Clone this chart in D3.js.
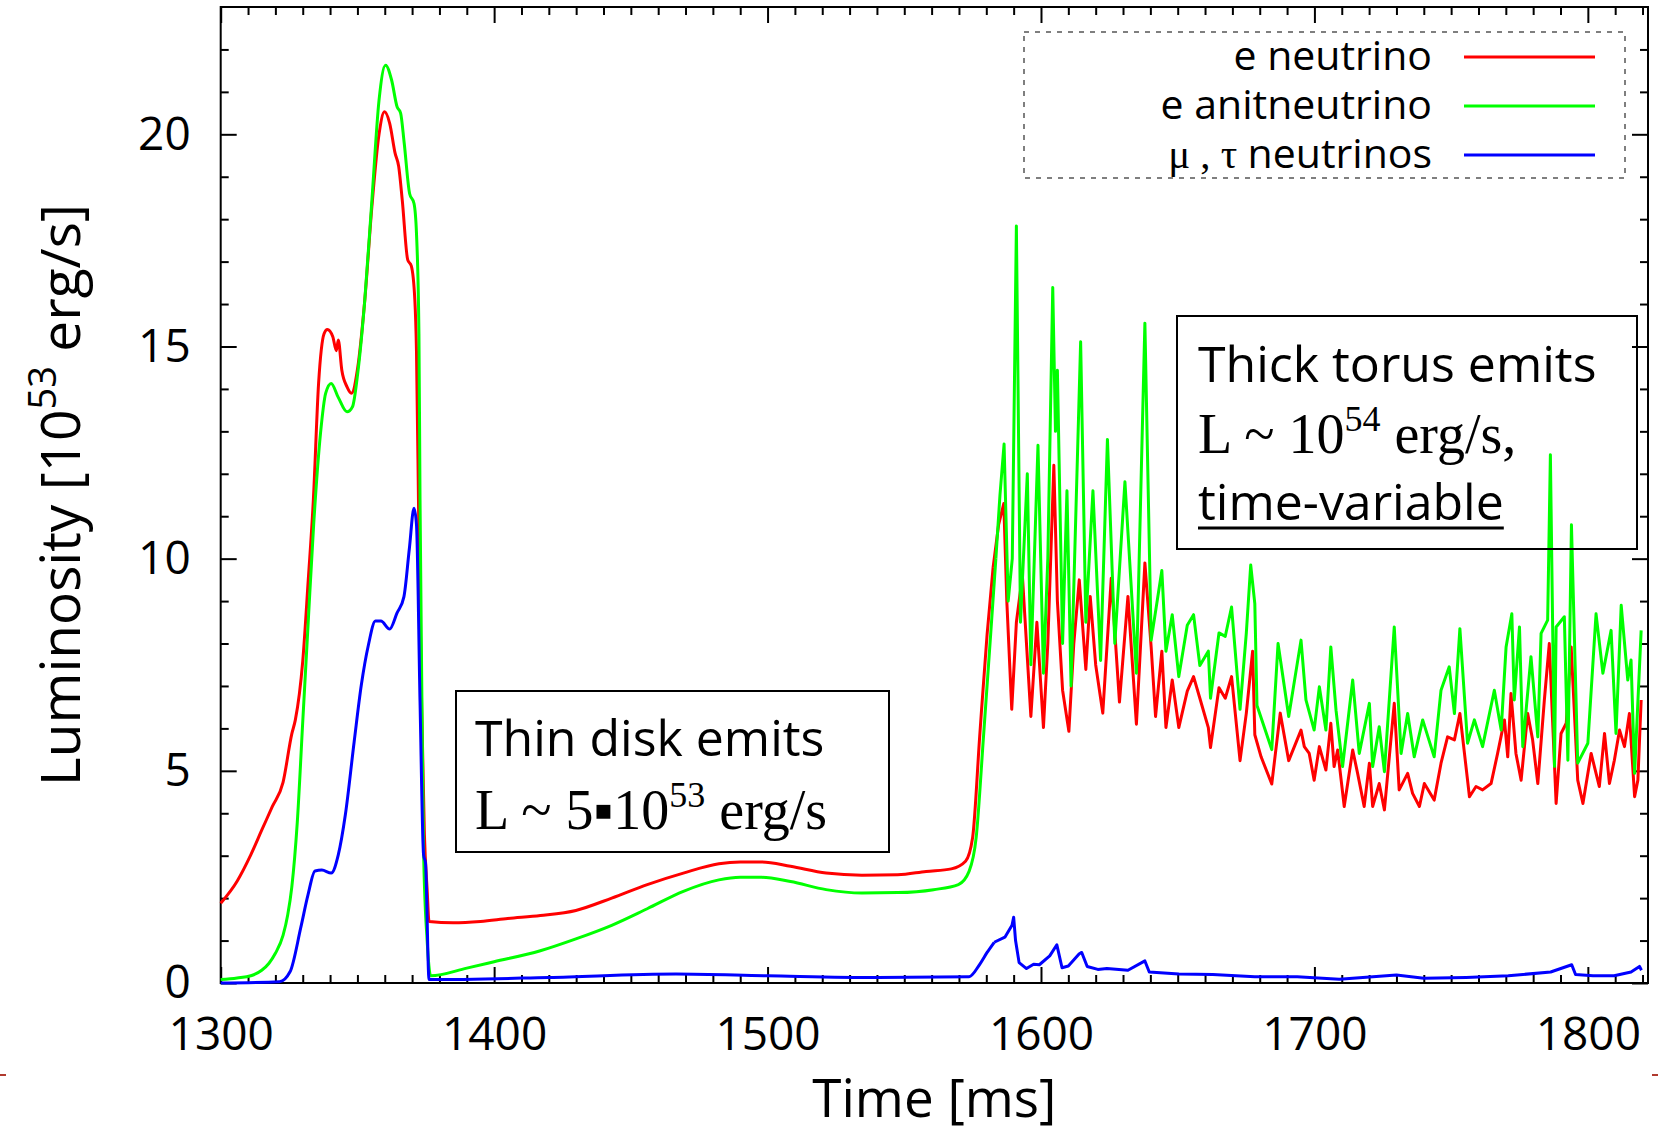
<!DOCTYPE html>
<html>
<head>
<meta charset="utf-8">
<title>Neutrino luminosity</title>
<script src="https://d3js.org/d3.v7.min.js"></script>
<style>
  * { margin: 0; padding: 0; }
  body { background: #fff; }
  svg { display: block; }
  .tick text { font-family: "Open Sans", sans-serif; fill: #000; }
</style>
</head>
<body>
<div id="chart"></div>
<script>
// ---- data (time in ms, luminosity in 1e53 erg/s) ----
const eNuT = [1300,1306,1311,1315,1318.9,1322.8,1326,1327.3,1330,1332,1333.9,1335.8,1337.8,1339,1341,1342.3,1343,1344.3,1346.2,1347.8,1350.1,1352.7,1355.3,1357.9,1359.9,1361.8,1363.8,1365.1,1366.4,1368.4,1369.7,1371,1371.6,1372.5,1373.5,1374.5,1375.5,1376.2,1385,1395,1405,1416.9,1429.9,1443,1456,1469.2,1482.2,1490,1497.9,1508.4,1521.4,1534.5,1547.6,1558,1567.2,1572.4,1575,1577.6,1580.3,1582.5,1584.5,1586.4,1587.5,1589.3,1591,1593.2,1596.3,1598.5,1600.9,1602.5,1604.7,1606,1607.9,1610.2,1612,1614,1616.4,1618,1620,1622.6,1625.7,1628.7,1631.8,1634.9,1638,1640.3,1641.9,1644.2,1645.7,1648,1650.4,1653.5,1655.8,1658.1,1661.2,1662,1665.1,1667.4,1669.7,1672.8,1675.1,1677.4,1678.2,1680.5,1684.4,1687.5,1690.6,1695.1,1696.3,1698.1,1699.9,1701.8,1704.2,1706,1707.2,1708.5,1710.9,1714,1715.8,1718.2,1720.1,1721.3,1723.7,1725.6,1729.2,1731,1734.1,1735.9,1738.4,1740.2,1743.8,1746.3,1748.7,1751.2,1753.2,1756.7,1759.1,1761.5,1764.6,1767,1769.5,1770.7,1771.9,1773.7,1775.6,1778,1779.8,1781.7,1784.1,1785.9,1788.4,1790.2,1792.1,1793.9,1796.3,1798.2,1801.2,1804.2,1806.1,1807.9,1809.7,1811.6,1813.4,1815.2,1817.1,1818.3,1819.5];
const eNuL = [1.88,2.4,3.02,3.6,4.16,4.73,5.87,6.2,7.58,9.48,11.4,14.13,15.3,15.4,15.23,14.9,15.15,14.44,14.05,13.9,14.5,16.1,18.3,20.0,20.53,20.26,19.55,19.24,18.45,17.04,16.9,16.1,14.9,10.5,6.5,3.5,2.2,1.45,1.42,1.45,1.52,1.59,1.71,2.0,2.32,2.59,2.81,2.85,2.85,2.75,2.59,2.54,2.55,2.63,2.69,2.87,3.43,5.83,8.22,9.8,10.8,11.3,9.0,6.45,8.5,9.6,6.28,8.5,6.02,8.0,12.2,9.0,6.9,5.93,8.0,9.5,7.39,9.11,7.5,6.36,9.54,6.62,9.11,6.1,9.9,7.91,6.28,7.82,6.02,7.14,6.02,6.88,7.22,6.71,6.02,5.55,6.96,6.71,7.22,5.24,6.36,7.82,5.85,5.33,4.69,6.36,5.24,5.96,5.57,5.41,4.78,5.57,5.02,6.12,5.1,5.49,4.16,5.49,4.94,4.16,5.18,4.16,4.7,4.08,6.59,4.55,4.94,4.47,4.16,4.7,4.31,5.18,5.8,5.73,6.35,4.39,4.63,4.55,4.7,5.41,6.2,5.33,6.82,5.41,4.78,6.35,5.73,4.7,6.67,8.0,4.23,5.88,6.12,7.92,4.78,4.23,5.41,4.63,5.88,4.7,5.25,5.96,5.57,6.35,4.39,4.78,6.67];

const eAnuT = [1300,1306,1311,1315,1317.6,1320,1322.8,1324.5,1326,1328,1330,1332,1334,1336.5,1338.4,1340.4,1343,1346.2,1348.2,1350.1,1352.7,1355.3,1357.9,1360.3,1362.5,1364.5,1365.8,1367.1,1369.1,1370.7,1371.6,1372.5,1372.9,1373.6,1374.2,1375.5,1376.8,1390,1400,1416.9,1429.9,1443,1456,1469.2,1482.2,1490,1497.9,1508.4,1521.4,1534.5,1547.6,1560.7,1569.8,1573.7,1576.3,1579,1581.6,1583.5,1585,1586.5,1588,1589.5,1591,1592.5,1595,1596.3,1598.9,1600.9,1602.5,1604.3,1605.3,1606,1607.9,1609.5,1611,1614.5,1616.4,1619,1621.8,1624.3,1627,1630.7,1634.9,1638,1640.3,1644.2,1645.7,1648,1650.4,1653.5,1655.8,1658.1,1661.2,1662,1665.1,1667.4,1669.7,1672.8,1675.1,1676.7,1678.2,1679,1684.4,1686.7,1690.6,1695.1,1696.9,1699.9,1701.8,1704.2,1706,1707.9,1710.3,1714,1716.4,1720.1,1721.3,1723.7,1725.6,1729.2,1731.7,1734.1,1736.5,1739.6,1743.8,1746.3,1749.3,1751.2,1753.2,1756,1758.5,1761.5,1765.8,1768.3,1770.1,1772.2,1773.1,1775,1776.2,1779.2,1781.7,1782.9,1785.3,1786.3,1787.8,1788.4,1791.4,1792.7,1794,1796.3,1800,1803,1805.5,1808.5,1810.3,1812.2,1814.6,1815.8,1817.1,1819.5];
const eAnuL = [0.08,0.12,0.17,0.3,0.46,0.7,1.12,1.6,2.26,3.78,6.15,8.5,10.8,12.95,13.9,14.13,13.8,13.46,13.58,14.36,16.1,18.45,20.8,21.63,21.28,20.65,20.5,19.8,18.6,18.37,17.67,15.3,11.4,6.6,3.1,1.0,0.17,0.35,0.5,0.76,1.04,1.36,1.75,2.16,2.43,2.49,2.49,2.39,2.2,2.12,2.13,2.2,2.32,2.63,3.43,5.83,8.22,10.0,11.5,12.7,9.0,10.0,17.84,8.5,12.0,7.5,12.67,7.3,10.0,16.39,13.0,14.44,8.0,11.6,7.0,15.11,8.5,11.6,7.6,12.81,8.0,11.81,7.3,15.55,8.08,9.72,7.82,8.68,7.22,8.43,8.68,7.48,7.82,6.71,8.25,8.17,8.86,6.45,8.25,9.85,8.94,6.54,5.5,8.0,6.28,8.08,6.67,5.96,6.98,5.96,7.92,6.43,5.1,7.14,5.41,6.59,5.1,6.04,4.98,8.39,5.41,6.35,5.33,6.2,5.33,6.9,7.45,6.35,8.35,5.65,6.2,5.57,6.9,5.96,7.92,8.7,6.67,8.39,5.57,7.69,5.8,8.24,8.55,12.45,5.1,8.39,8.63,5.25,10.8,5.18,5.65,8.7,7.3,8.31,5.88,8.9,7.14,7.61,4.94,8.31];

const muTauT = [1300,1321.5,1325.4,1329.3,1331.9,1334.5,1337,1340.4,1343,1345.6,1348.8,1351.4,1354,1356.6,1358.6,1361.8,1364.5,1367,1369,1370.7,1371.6,1372.9,1374.2,1374.9,1376.2,1420,1466.5,1500,1540,1573.7,1577.6,1580.3,1582.9,1586.8,1589.4,1590,1590.7,1592,1594.7,1597.3,1599.4,1603.2,1605.8,1607.7,1610,1614,1614.9,1616.9,1620.8,1624.1,1631.8,1638,1639.6,1650.4,1662.8,1678.2,1693.7,1709.1,1730,1740,1755.5,1770.9,1786.4,1794.1,1795.5,1801.9,1809.6,1815.8,1818.9,1819.6];
const muTauL = [0,0.03,0.27,1.31,2.07,2.64,2.66,2.59,3.02,3.97,5.68,7.01,7.96,8.53,8.53,8.34,8.72,9.1,10.24,11.19,10.8,6.63,3.02,2.83,0.08,0.13,0.21,0.17,0.13,0.15,0.44,0.72,0.96,1.08,1.36,1.55,1.0,0.48,0.34,0.44,0.43,0.64,0.9,0.36,0.4,0.69,0.72,0.39,0.32,0.34,0.3,0.52,0.26,0.21,0.2,0.15,0.15,0.09,0.19,0.11,0.13,0.17,0.26,0.43,0.2,0.17,0.17,0.26,0.39,0.3];

const xMajor = [1300, 1400, 1500, 1600, 1700, 1800];
const yMajor = [0, 5, 10, 15, 20];
const seriesNames = ["e neutrino", "e anitneutrino", "\u03bc , \u03c4 neutrinos"];
const seriesColors = ["#ff0000", "#00ff00", "#0000ff"];
const noisyFrom = 1582; // after this time the curves are jagged

// ---- layout ----
const W = 1663, H = 1132;
const pL = 220.7, pR = 1648, pT = 7, pB = 983;

const svg = d3.select("#chart").append("svg").attr("width", W).attr("height", H);

const x = d3.scaleLinear().domain([1300, 1822]).range([pL, pR]);
const y = d3.scaleLinear().domain([0, 23]).range([pB, pT]);

// minor ticks
const xMinor = d3.range(1300, 1822, 10).filter(v => v % 100 !== 0);
const yMinor = d3.range(0, 23, 1).filter(v => v % 5 !== 0);

function axisGroup(gen, tx, ty) {
  const g = svg.append("g").attr("transform", `translate(${tx},${ty})`).call(gen);
  g.select(".domain").remove();
  g.selectAll("line").attr("stroke", "#000").attr("stroke-width", 2);
  return g;
}

// bottom
axisGroup(d3.axisBottom(x).tickValues(xMinor).tickSize(-8).tickFormat(""), 0, pB);
const xAx = axisGroup(d3.axisBottom(x).tickValues(xMajor).tickSize(-16).tickPadding(34).tickFormat(d3.format("d")), 0, pB);
xAx.selectAll("text").attr("font-size", 46);
// top
axisGroup(d3.axisTop(x).tickValues(xMinor).tickSize(-8).tickFormat(""), 0, pT);
axisGroup(d3.axisTop(x).tickValues(xMajor).tickSize(-16).tickFormat(""), 0, pT);
// left
axisGroup(d3.axisLeft(y).tickValues(yMinor).tickSize(-8).tickFormat(""), pL, 0);
const yAx = axisGroup(d3.axisLeft(y).tickValues(yMajor).tickSize(-16).tickPadding(30).tickFormat(d3.format("d")), pL, 0);
yAx.selectAll("text").attr("font-size", 46);
// right
axisGroup(d3.axisRight(y).tickValues(yMinor).tickSize(-8).tickFormat(""), pR, 0);
axisGroup(d3.axisRight(y).tickValues(yMajor).tickSize(-16).tickFormat(""), pR, 0);

// frame
svg.append("rect")
  .attr("x", pL).attr("y", pT)
  .attr("width", pR - pL).attr("height", pB - pT)
  .attr("fill", "none").attr("stroke", "#000").attr("stroke-width", 2);

// series: smooth part drawn with a monotone curve, noisy part straight segments
const smoothLine = d3.line().x(d => x(d[0])).y(d => y(d[1])).curve(d3.curveMonotoneX);
const jaggedLine = d3.line().x(d => x(d[0])).y(d => y(d[1]));
const series = [
  d3.zip(eNuT, eNuL),
  d3.zip(eAnuT, eAnuL),
  d3.zip(muTauT, muTauL)
];
series.forEach((s, i) => {
  const k = s.findIndex(d => d[0] >= noisyFrom);
  const smooth = s.slice(0, k + 1);
  const jagged = s.slice(k);
  [[smooth, smoothLine], [jagged, jaggedLine]].forEach(([part, gen]) => {
    svg.append("path")
      .datum(part)
      .attr("d", gen)
      .attr("fill", "none")
      .attr("stroke", seriesColors[i])
      .attr("stroke-width", 3)
      .attr("stroke-linejoin", "round");
  });
});

// legend
svg.append("rect")
  .attr("x", 1024).attr("y", 32).attr("width", 601).attr("height", 146)
  .attr("fill", "none").attr("stroke", "#555").attr("stroke-width", 1.5)
  .attr("stroke-dasharray", "5,6");

const legRows = [57, 106, 155];
seriesNames.forEach((name, i) => {
  svg.append("line")
    .attr("x1", 1464).attr("x2", 1595)
    .attr("y1", legRows[i]).attr("y2", legRows[i])
    .attr("stroke", seriesColors[i]).attr("stroke-width", 3);
});
svg.append("text").attr("x", 1432).attr("y", legRows[0] + 13)
  .attr("text-anchor", "end").attr("font-family", "Open Sans").attr("font-size", 41)
  .text(seriesNames[0]);
svg.append("text").attr("x", 1432).attr("y", legRows[1] + 13)
  .attr("text-anchor", "end").attr("font-family", "Open Sans").attr("font-size", 41)
  .text(seriesNames[1]);
const muLab = svg.append("text").attr("x", 1432).attr("y", legRows[2] + 13)
  .attr("text-anchor", "end").attr("font-family", "Open Sans").attr("font-size", 41);
muLab.append("tspan").attr("font-family", "Liberation Serif").text("\u03bc , \u03c4 ");
muLab.append("tspan").text("neutrinos");

// axis titles
svg.append("text")
  .attr("x", (pL + pR) / 2).attr("y", 1117)
  .attr("text-anchor", "middle").attr("font-family", "Open Sans").attr("font-size", 53)
  .text("Time [ms]");

const yt = svg.append("text")
  .attr("transform", `translate(80,${(pT + pB) / 2}) rotate(-90)`)
  .attr("text-anchor", "middle").attr("font-family", "Open Sans").attr("font-size", 55);
yt.append("tspan").text("Luminosity [10");
yt.append("tspan").attr("font-size", 38).attr("dy", -24).text("53");
yt.append("tspan").attr("dy", 24).text(" erg/s]");

// annotation boxes
svg.append("rect").attr("x", 456).attr("y", 691).attr("width", 433).attr("height", 161)
  .attr("fill", "none").attr("stroke", "#000").attr("stroke-width", 2);
svg.append("text").attr("x", 475).attr("y", 756)
  .attr("font-family", "Open Sans").attr("font-size", 50).text("Thin disk emits");
const thin = svg.append("text").attr("x", 475).attr("y", 829)
  .attr("font-family", "Liberation Serif").attr("font-size", 56);
thin.append("tspan").text("L ~ 5\u25aa10");
thin.append("tspan").attr("font-size", 36).attr("dy", -22).text("53");
thin.append("tspan").attr("dy", 22).text(" erg/s");

svg.append("rect").attr("x", 1177).attr("y", 316).attr("width", 460).attr("height", 233)
  .attr("fill", "none").attr("stroke", "#000").attr("stroke-width", 2);
svg.append("text").attr("x", 1198).attr("y", 382)
  .attr("font-family", "Open Sans").attr("font-size", 50).text("Thick torus emits");
const thick = svg.append("text").attr("x", 1198).attr("y", 453)
  .attr("font-family", "Liberation Serif").attr("font-size", 56);
thick.append("tspan").text("L ~ 10");
thick.append("tspan").attr("font-size", 36).attr("dy", -22).text("54");
thick.append("tspan").attr("dy", 22).text(" erg/s,");
const tv = svg.append("text").attr("x", 1198).attr("y", 520)
  .attr("font-family", "Open Sans").attr("font-size", 50).text("time-variable");
const tvw = tv.node().getComputedTextLength();
svg.append("line").attr("x1", 1198).attr("x2", 1198 + tvw)
  .attr("y1", 528).attr("y2", 528).attr("stroke", "#000").attr("stroke-width", 3);

// small slide marks at the bottom edges
svg.append("line").attr("x1", 0).attr("x2", 6).attr("y1", 1075).attr("y2", 1075)
  .attr("stroke", "#b03a2e").attr("stroke-width", 2);
svg.append("line").attr("x1", 1652).attr("x2", 1658).attr("y1", 1075).attr("y2", 1075)
  .attr("stroke", "#b03a2e").attr("stroke-width", 2);
</script>
</body>
</html>
